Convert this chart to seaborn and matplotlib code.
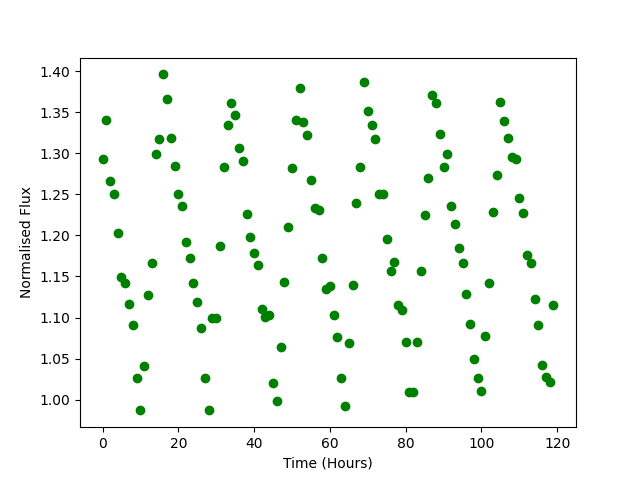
import numpy as np
import pandas as pd
import matplotlib
matplotlib.use("Agg")
import matplotlib.pyplot as plt
import seaborn as sns

# Hourly readings
hours = list(range(120))
flux = [
    1.293, 1.340, 1.266, 1.251, 1.203, 1.149, 1.142, 1.116, 1.091, 1.026,
    0.987, 1.041, 1.127, 1.166, 1.299, 1.317, 1.396, 1.366, 1.318, 1.285,
    1.250, 1.236, 1.192, 1.173, 1.142, 1.119, 1.087, 1.026, 0.987, 1.099,
    1.100, 1.187, 1.283, 1.334, 1.361, 1.346, 1.306, 1.290, 1.226, 1.198,
    1.179, 1.164, 1.111, 1.101, 1.103, 1.020, 0.998, 1.064, 1.143, 1.210,
    1.282, 1.340, 1.379, 1.338, 1.322, 1.267, 1.233, 1.231, 1.173, 1.135,
    1.138, 1.103, 1.076, 1.026, 0.992, 1.069, 1.140, 1.239, 1.283, 1.387,
    1.351, 1.334, 1.317, 1.251, 1.251, 1.196, 1.157, 1.168, 1.115, 1.109,
    1.070, 1.009, 1.009, 1.070, 1.157, 1.225, 1.270, 1.371, 1.361, 1.324,
    1.283, 1.299, 1.236, 1.214, 1.185, 1.167, 1.129, 1.092, 1.049, 1.026,
    1.011, 1.077, 1.142, 1.228, 1.274, 1.362, 1.339, 1.318, 1.295, 1.293,
    1.245, 1.227, 1.176, 1.167, 1.122, 1.091, 1.042, 1.028, 1.021, 1.115,
]

df = pd.DataFrame({"hours": hours, "flux": flux})

fig, ax = plt.subplots(figsize=(6.4, 4.8), dpi=100)
sns.scatterplot(data=df, x="hours", y="flux", ax=ax, color="green",
                edgecolor="green", s=36, linewidth=1)
ax.set_xlabel("Time (Hours)")
ax.set_ylabel("Normalised Flux")
fig.savefig("out.png", dpi=100)
